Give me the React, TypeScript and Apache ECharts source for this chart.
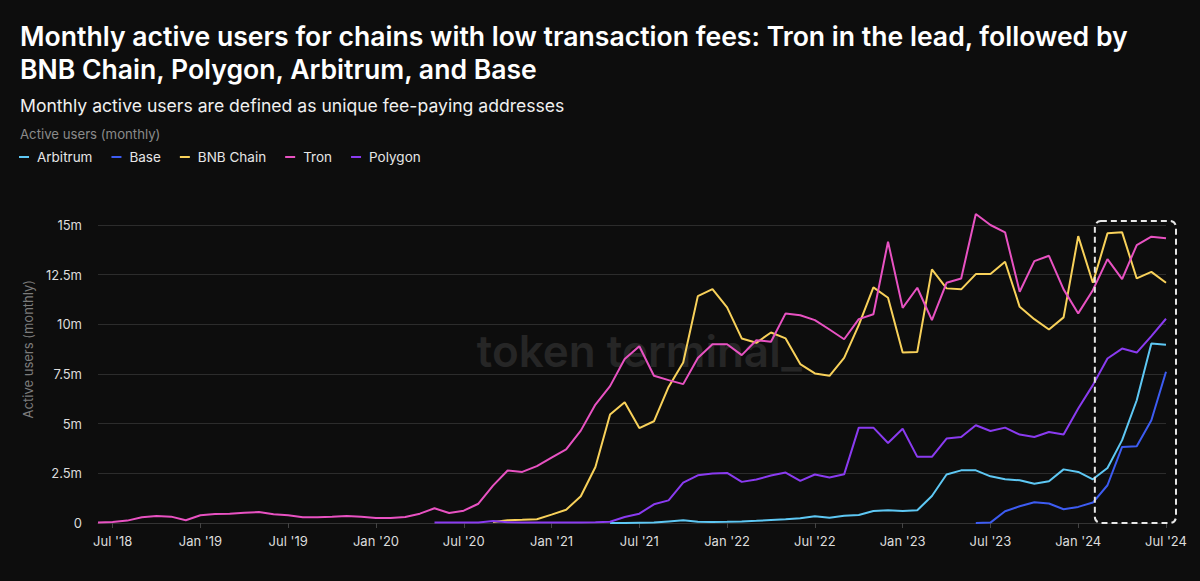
import React, { useEffect, useRef } from "react";
import * as echarts from "echarts";

// Monthly categories, Jun 2018 .. Jul 2024
const START_YEAR = 2018;
const START_MONTH = 6;
const MONTH_COUNT = 74;
const months: string[] = [];
for (let k = 0; k < MONTH_COUNT; k++) {
  const m = START_MONTH - 1 + k;
  const y = START_YEAR + Math.floor(m / 12);
  const mm = (m % 12) + 1;
  months.push(`${y}-${mm < 10 ? "0" + mm : mm}`);
}
const MONTH_NAMES = ["Jan", "Feb", "Mar", "Apr", "May", "Jun", "Jul", "Aug", "Sep", "Oct", "Nov", "Dec"];

const yTicks = [0, 2.5, 5, 7.5, 10, 12.5, 15];

const n = (k: number) => Array(k).fill(null);

// values in millions of monthly active users
const tron: (number | null)[] = [
  0.03, 0.05, 0.12, 0.29, 0.35, 0.32, 0.14, 0.39, 0.45, 0.47, 0.52, 0.55,
  0.44, 0.39, 0.29, 0.29, 0.31, 0.35, 0.31, 0.25, 0.25, 0.3, 0.47, 0.74,
  0.5, 0.62, 0.97, 1.88, 2.64, 2.57, 2.86, 3.29, 3.71, 4.65, 5.96, 6.89,
  8.25, 8.9, 7.41, 7.19, 6.99, 8.31, 9.0, 9.0, 8.45, 9.2, 9.12, 10.55,
  10.46, 10.21, 9.74, 9.25, 10.26, 10.51, 14.16, 10.83, 11.84, 10.21, 12.09, 12.31,
  15.55, 15.0, 14.63, 11.64, 13.18, 13.45, 11.76, 10.55, 11.72, 13.28, 12.28, 13.99,
  14.41, 14.33,
];
const bnb: (number | null)[] = [
  ...n(27),
  0.05, 0.14, 0.16, 0.19, 0.42, 0.67, 1.35, 2.82, 5.46,
  6.08, 4.78, 5.12, 6.85, 8.08, 11.42, 11.77, 10.85, 9.29, 9.07, 9.59, 9.29,
  8.0, 7.53, 7.41, 8.31, 9.96, 11.86, 11.34, 8.58, 8.61, 12.77, 11.81, 11.76,
  12.53, 12.53, 13.15, 10.88, 10.26, 9.74, 10.35, 14.44, 12.09, 14.58, 14.63, 12.31,
  12.64, 12.09,
];
const polygon: (number | null)[] = [
  ...n(23),
  0.02, 0.02, 0.02, 0.03, 0.1, 0.04, 0.03, 0.03, 0.03, 0.03, 0.03, 0.04, 0.06,
  0.3, 0.47, 0.94, 1.14, 2.03, 2.4, 2.49, 2.52, 2.07, 2.19, 2.39, 2.54,
  2.12, 2.44, 2.29, 2.45, 4.8, 4.8, 4.03, 4.74, 3.33, 3.33, 4.25, 4.33,
  4.92, 4.63, 4.8, 4.45, 4.33, 4.58, 4.45, 5.76, 6.94, 8.28, 8.78, 8.58,
  9.41, 10.28,
];
const arbitrum: (number | null)[] = [
  ...n(35),
  0.0, 0.0, 0.01, 0.02, 0.08, 0.14, 0.06, 0.05, 0.06, 0.08, 0.11, 0.15, 0.19,
  0.24, 0.34, 0.27, 0.37, 0.4, 0.6, 0.64, 0.6, 0.64, 1.36, 2.44, 2.65,
  2.65, 2.35, 2.2, 2.15, 1.98, 2.1, 2.7, 2.57, 2.2, 2.77, 4.17, 6.18,
  9.04, 8.97,
];
const base: (number | null)[] = [
  ...n(60),
  0.0, 0.02, 0.59, 0.84, 1.04, 0.98, 0.69, 0.81, 1.03, 1.9, 3.83, 3.86,
  5.17, 7.61,
];

const seriesDefs = [
  { name: "Arbitrum", color: "#5ec8f4", data: arbitrum },
  { name: "Base", color: "#3d5cf2", data: base },
  { name: "BNB Chain", color: "#f8d15a", data: bnb },
  { name: "Tron", color: "#e852c2", data: tron },
  { name: "Polygon", color: "#8a3bf0", data: polygon },
];

const FONT = "Inter, 'Noto Sans', sans-serif";

export default function App() {
  const ref = useRef<HTMLDivElement>(null);
  useEffect(() => {
    document.body.style.margin = "0";
    document.body.style.background = "#0d0d0d";
    if (!ref.current) return;
    const chart = echarts.init(ref.current, null, { renderer: "svg" });
    const isTick = (idx: number) => {
      const m = months[idx];
      if (!m) return false;
      const mm = m.slice(5);
      return mm === "01" || mm === "07";
    };
    chart.setOption({
      animation: false,
      backgroundColor: "#0d0d0d",
      textStyle: { fontFamily: FONT },
      title: [
        {
          text:
            "Monthly active users for chains with low transaction fees: Tron in the lead, followed by\nBNB Chain, Polygon, Arbitrum, and Base",
          left: 20,
          top: 19,
          padding: 0,
          textStyle: { color: "#ffffff", fontSize: 26.6, fontWeight: 600, lineHeight: 33, fontFamily: FONT },
        },
        {
          text: "Monthly active users are defined as unique fee-paying addresses",
          left: 20,
          top: 96,
          padding: 0,
          textStyle: { color: "#f0f0f0", fontSize: 17.6, fontWeight: 400, fontFamily: FONT },
        },
        {
          text: "Active users (monthly)",
          left: 20,
          top: 127,
          padding: 0,
          textStyle: { color: "#8a8a8a", fontSize: 13.2, fontWeight: 400, fontFamily: FONT },
        },
      ],
      legend: {
        left: 19,
        top: 150,
        padding: 0,
        icon: "rect",
        itemWidth: 10,
        itemHeight: 2,
        itemGap: 19,
        textStyle: { color: "#e6e6e6", fontSize: 13.5, fontFamily: FONT, padding: [0, 0, 0, 3] },
        data: seriesDefs.map((s) => s.name),
      },
      grid: { left: 98, right: 34, top: 225, bottom: 58, containLabel: false },
      xAxis: {
        type: "category",
        data: months,
        boundaryGap: false,
        axisLine: { lineStyle: { color: "#333333", width: 1 } },
        axisTick: { show: true, length: 5, interval: (i: number) => isTick(i), lineStyle: { color: "#444444" } },
        axisLabel: {
          interval: (i: number) => isTick(i),
          color: "#dcdcdc",
          fontSize: 13,
          margin: 11,
          fontFamily: FONT,
          formatter: (v: string) => `${MONTH_NAMES[parseInt(v.slice(5), 10) - 1]} '${v.slice(2, 4)}`,
        },
        splitLine: { show: false },
      },
      yAxis: {
        type: "value",
        min: yTicks[0],
        max: yTicks[yTicks.length - 1],
        interval: 2.5,
        axisLine: { show: false },
        axisTick: { show: false },
        axisLabel: {
          color: "#dcdcdc",
          fontSize: 13,
          margin: 16,
          fontFamily: FONT,
          formatter: (v: number) => (v === 0 ? "0" : `${v}m`),
        },
        splitLine: { lineStyle: { color: "#2c2c2c", width: 1 } },
      },
      series: seriesDefs.map((s) => ({
        name: s.name,
        type: "line",
        data: s.data,
        showSymbol: false,
        symbol: "none",
        clip: false,
        color: s.color,
        lineStyle: { color: s.color, width: 2 },
        z: 3,
      })),
    });

    const p0 = chart.convertToPixel({ xAxisIndex: 0, yAxisIndex: 0 }, [months[68], 0]) as number[];
    const p1 = chart.convertToPixel({ xAxisIndex: 0, yAxisIndex: 0 }, [months[73], 15.1]) as number[];
    const pw = chart.convertToPixel({ xAxisIndex: 0, yAxisIndex: 0 }, [months[37], 8.65]) as number[];
    const pc = chart.convertToPixel({ yAxisIndex: 0 }, 8.75) as number;
    const left = p0[0] + 2;
    const right = p1[0] + 10;
    const top = p1[1] - 2;
    const bottom = p0[1];
    chart.setOption({
      graphic: [
        {
          type: "text",
          x: pw[0],
          y: pw[1],
          z: 0,
          silent: true,
          style: {
            text: "token terminal_",
            fill: "#262626",
            font: `600 44px ${FONT}`,
            textAlign: "center",
            textVerticalAlign: "middle",
          },
        },
        {
          type: "text",
          x: 28,
          y: pc,
          rotation: Math.PI / 2,
          silent: true,
          style: {
            text: "Active users (monthly)",
            fill: "#7c7c7c",
            font: `400 13px ${FONT}`,
            textAlign: "center",
            textVerticalAlign: "middle",
          },
        },
        {
          type: "rect",
          z: 10,
          silent: true,
          shape: { x: left, y: top, width: right - left, height: bottom - top, r: 6 },
          style: { fill: "none", stroke: "#e6e6e6", lineWidth: 2, lineDash: [6, 4] },
        },
      ],
    });
    return () => chart.dispose();
  }, []);
  return <div ref={ref} style={{ width: 1200, height: 581 }} />;
}
